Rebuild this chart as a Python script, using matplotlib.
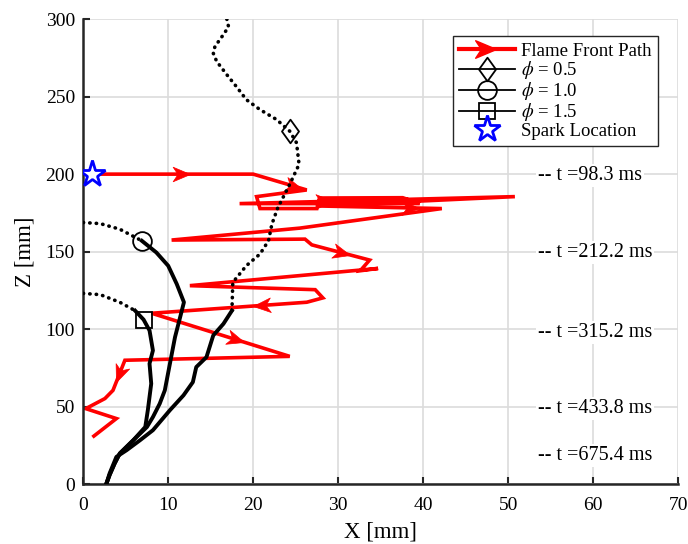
import numpy as np
import matplotlib
matplotlib.use("Agg")
import matplotlib.pyplot as plt
from matplotlib.lines import Line2D
from matplotlib.markers import MarkerStyle
from matplotlib.path import Path
from matplotlib.transforms import Affine2D
from matplotlib.legend_handler import HandlerBase

plt.rcParams['font.family'] = ['Liberation Serif', 'DejaVu Serif']
plt.rcParams['mathtext.fontset'] = 'stix'

# flame front path (red)
path_x = [1, 20, 26.3, 20.4, 20.8, 27.5, 27.8, 37.6, 39.6, 18.4, 50.8, 27.4, 42.2, 25.5,
          10.4, 26.1, 26.9, 33.7, 32.6, 34.7, 12.55, 27.3, 28.2, 26.3, 8.05, 24.3, 4.9,
          3.5, 2.55, 0.3, 3.9, 1.25]
path_z = [200, 200, 189.8, 185.5, 177.8, 177.8, 184.6, 184.8, 181, 181, 185.5, 179.5, 177.8,
          165.2, 157.5, 158.1, 154.4, 144.6, 137.7, 139.2, 128.1, 125.5, 120.2, 117.4, 110.3,
          82.5, 80, 60.6, 55.3, 48.8, 42.4, 31.1]
# arrows: segment index and fraction along it
arrow_seg = [0, 1, 9, 11, 16, 23, 24, 26]
arrow_frac = [0.61, 0.92, 0.34, 0.82, 0.66, 0.345, 0.67, 0.73]

# flame kernel outlines
phi05_x = [16.9, 17.1, 16.5, 15.5, 15.3, 15.7, 16.9, 18.0, 19.2, 20.8, 22.75, 24.3, 25.1, 25.4,
           24.3, 22.9, 22.2, 21.8, 20.8, 19.2, 17.6, 17.5, 16.5, 15.3, 14.5, 13.3, 12.9, 11.8,
           10.2, 8.2, 6.7, 5.1, 3.9, 3.1, 2.7]
phi05_z = [300, 295, 290, 282.3, 278, 272.7, 264.1, 256.6, 248, 241.6, 235.2, 227.7, 220.2, 206.3,
           193.4, 178.4, 167.7, 157, 148.5, 141, 130.2, 112, 103.5, 96, 82, 75.6, 65.9, 57.4,
           47.8, 34.9, 28.5, 22, 17.7, 7, 0]
phi10_x = [0, 2.0, 4.3, 6.9, 8.6, 10.0, 11.0, 11.85, 11.4, 10.8, 10.2, 9.6, 9.0, 8.2, 7.5,
           5.9, 4.3, 3.7, 3.1, 2.7]
phi10_z = [168.8, 168.1, 164.5, 157, 149.5, 140.9, 129.2, 117.4, 107.7, 94.9, 77.8, 60.6, 52,
           43.4, 37, 28.5, 19.9, 13.5, 6, 0]
phi15_x = [0, 2.0, 4.3, 6.1, 7.1, 7.8, 8.2, 7.8, 8.0, 7.6, 7.3, 5.9, 4.3, 3.7, 3.1, 2.7]
phi15_z = [123.1, 122.3, 117.4, 112, 106.2, 99.2, 86.3, 77.8, 64.9, 47.8, 37, 28.5, 19.9,
           13.5, 6, 0]

spark_x, spark_z = 1, 200

time_z = [199, 149.6, 98, 48.7, 18.7]
time_labels = ['-- t =98.3 ms', '-- t =212.2 ms', '-- t =315.2 ms', '-- t =433.8 ms', '-- t =675.4 ms']


def arrow_marker(angle):
    verts = [(0, 0), (-1, 0.42), (-0.72, 0), (-1, -0.42), (0, 0)]
    codes = [Path.MOVETO, Path.LINETO, Path.LINETO, Path.LINETO, Path.CLOSEPOLY]
    return MarkerStyle(Path(verts, codes), transform=Affine2D().rotate_deg(angle))


diamond = Path([(0, 1), (0.72, 0), (0, -1), (-0.72, 0), (0, 1)],
               [Path.MOVETO, Path.LINETO, Path.LINETO, Path.LINETO, Path.CLOSEPOLY])

fig = plt.figure(figsize=(6.88, 5.44), dpi=100)
ax = fig.add_axes([0.121, 0.1097, 0.8645, 0.8553])
ax.set_xlim(0, 70)
ax.set_ylim(0, 300)

ax.grid(True, color='#dcdcdc', lw=1.2)
ax.set_axisbelow(True)

# red path
ax.plot(path_x, path_z, color='red', lw=2.6, zorder=2, solid_joinstyle='miter')
for s, f in zip(arrow_seg, arrow_frac):
    x0, z0, x1, z1 = path_x[s], path_z[s], path_x[s + 1], path_z[s + 1]
    px0, py0 = ax.transData.transform((x0, z0))
    px1, py1 = ax.transData.transform((x1, z1))
    ang = np.degrees(np.arctan2(py1 - py0, px1 - px0))
    ax.plot([x0 + f * (x1 - x0)], [z0 + f * (z1 - z0)], marker=arrow_marker(ang), ms=25,
            color='red', mec='red', mew=0.5, zorder=2)

# kernel outlines: dotted upper part, dense lower part
dot = (0, (0.1, 1.7))
for xs, zs, cut, mk, ms, idx in [(phi05_x, phi05_z, 21, diamond, 17, 11),
                                 (phi10_x, phi10_z, 3, 'o', 13.5, 3),
                                 (phi15_x, phi15_z, 3, 's', 11, 4)]:
    ax.plot(xs[:cut + 1], zs[:cut + 1], color='k', lw=2.6, ls=dot, dash_capstyle='round', zorder=3)
    ax.plot(xs[cut:], zs[cut:], color='k', lw=2.8, zorder=3)
    ax.plot([xs[idx]], [zs[idx]], ls='none', marker=mk, ms=ms, mfc='none', mec='k', mew=1.3, zorder=4)

ax.plot([spark_x], [spark_z], ls='none', marker='*', ms=20, mfc='white', mec='blue', mew=2, zorder=5)

for z, lab in zip(time_z, time_labels):
    ax.text(53.5, z, lab, fontsize=14.5, va='center', ha='left', zorder=1,
            bbox=dict(facecolor='white', edgecolor='none', pad=1.5))

ax.set_xticks(np.arange(0, 71, 10))
ax.set_yticks(np.arange(0, 301, 50))
ax.tick_params(direction='in', length=5, width=1.5, labelsize=14, color='#262626')
ax.tick_params(axis='x', pad=9)
ax.tick_params(axis='y', pad=6)
for side in ['top', 'right']:
    ax.spines[side].set_visible(False)
for side in ['left', 'bottom']:
    ax.spines[side].set_linewidth(1.8)
    ax.spines[side].set_color('#262626')
ax.set_xlabel('X [mm]', fontsize=16.5, labelpad=5.5)
ax.set_ylabel('Z [mm]', fontsize=16.5, labelpad=7)


class HandlerArrowLine(HandlerBase):
    def create_artists(self, legend, orig_handle, xdescent, ydescent, width, height, fontsize, trans):
        y = height / 2 - ydescent
        line = Line2D([-xdescent, width - xdescent], [y, y], color='red', lw=3, transform=trans)
        head = Line2D([-xdescent + 0.65 * width], [y], marker=arrow_marker(0), ms=30,
                      color='red', mec='red', transform=trans)
        return [line, head]


h_path = Line2D([], [], color='red', lw=3)
h05 = Line2D([], [], color='k', lw=1.3, marker=diamond, ms=17, mfc='none', mec='k', mew=1.3)
h10 = Line2D([], [], color='k', lw=1.3, marker='o', ms=13.5, mfc='none', mec='k', mew=1.3)
h15 = Line2D([], [], color='k', lw=1.3, marker='s', ms=11, mfc='none', mec='k', mew=1.3)
h_sp = Line2D([], [], ls='none', marker='*', ms=20, mfc='white', mec='blue', mew=2)
leg = ax.legend([h_path, h05, h10, h15, h_sp],
                ['Flame Front Path', r'$\phi$ = 0.5', r'$\phi$ = 1.0', r'$\phi$ = 1.5', 'Spark Location'],
                handler_map={h_path: HandlerArrowLine()},
                loc='upper right', bbox_to_anchor=(0.9664, 0.9635), borderaxespad=0,
                fontsize=13.5, handlelength=3.0, handletextpad=0.3, labelspacing=-0.04,
                handleheight=0.6, borderpad=0.35, fancybox=False, framealpha=1, edgecolor='#262626')
leg.get_frame().set_linewidth(1.0)
leg.set_zorder(10)

fig.savefig('out.png', dpi=100)
